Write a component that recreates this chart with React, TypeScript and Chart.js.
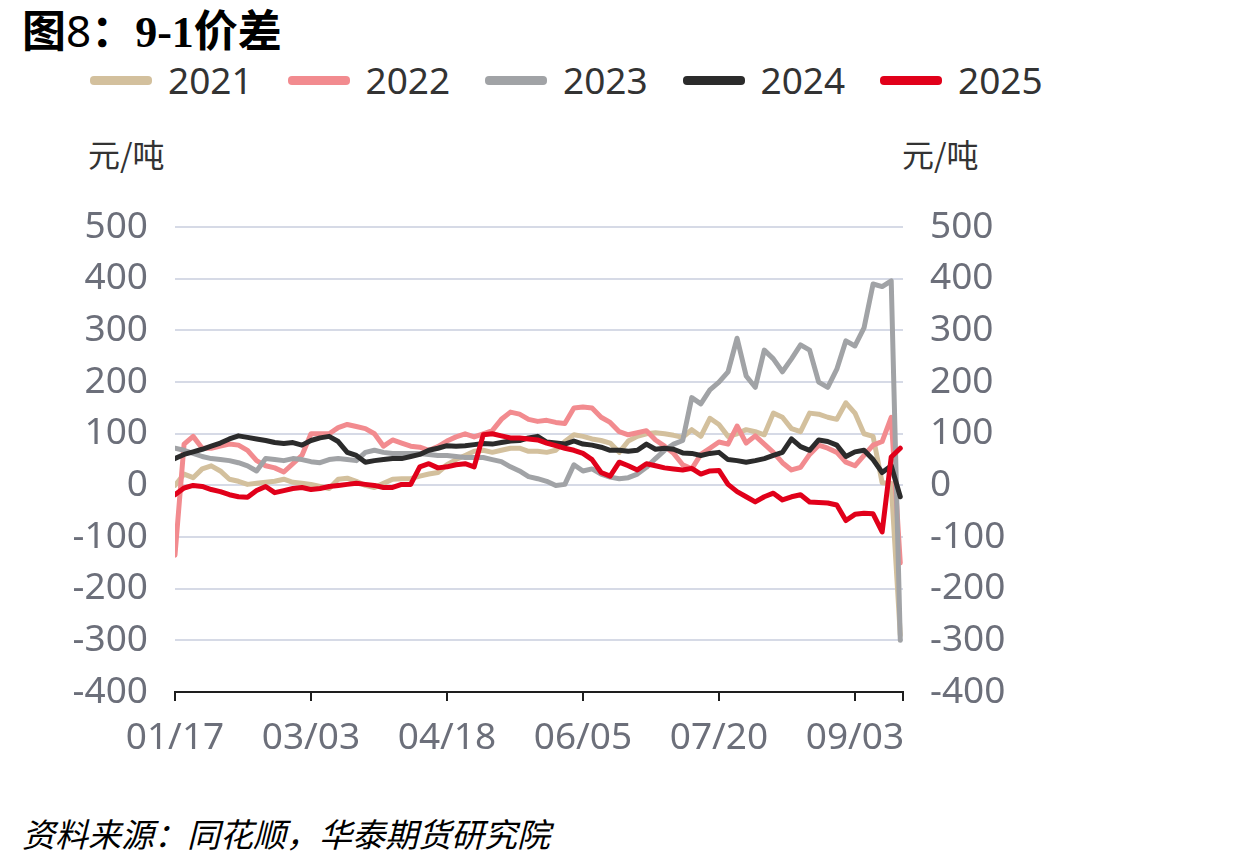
import React, { useEffect, useRef } from 'react';
import { Chart, registerables } from 'chart.js';

Chart.register(...registerables);

// ---- data ----
const dateLabels = ['01/17', '03/03', '04/18', '06/05', '07/20', '09/03'];
const labelStep = 15;
const xMax = 80.3;
const years = ['2021', '2022', '2023', '2024', '2025'];
const seriesColors = ['#D3C09D', '#F28B8F', '#A1A3A6', '#2B2B2B', '#E1001A'];

const s2021 = [
  0, 22, 15, 32, 38, 28, 12, 8, 2, 4, 6, 8, 12, 6, 4, 2, -2, -6, 12, 14,
  8, 0, -4, 4, 12, 13, 13, 18, 22, 25, 40, 50, 58, 66, 68, 64, 68, 72, 72, 66,
  66, 64, 68, 85, 98, 95, 90, 87, 82, 64, 86, 95, 100, 102, 100, 97, 93, 108, 95, 130,
  118, 95, 100, 108, 104, 98, 140, 132, 110, 104, 140, 138, 132, 128, 160, 140, 100, 95, 5, 4,
  -290,
];
const s2022 = [
  -135, 80, 95, 72, 72, 76, 80, 78, 68, 48, 38, 34, 26, 42, 58, 100, 100, 100, 112, 118,
  114, 110, 100, 76, 88, 82, 76, 74, 68, 75, 86, 94, 100, 94, 100, 106, 128, 142, 138, 128,
  124, 126, 122, 120, 150, 152, 150, 132, 122, 104, 98, 102, 106, 88, 76, 62, 40, 32, 60, 72,
  84, 80, 115, 82, 96, 80, 64, 44, 30, 35, 60, 78, 72, 64, 45, 38, 58, 78, 85, 132,
  -150,
];
const s2023 = [
  72, 68, 62, 56, 52, 50, 48, 44, 38, 28, 52, 50, 48, 52, 50, 46, 44, 50, 52, 50,
  48, 64, 68, 64, 62, 62, 62, 62, 60, 58, 58, 56, 54, 54, 54, 50, 46, 36, 28, 17,
  13, 8, 0, 2, 40, 28, 32, 22, 16, 13, 15, 22, 35, 52, 68, 80, 87, 170, 158, 185,
  200, 220, 285, 212, 190, 262, 245, 220, 245, 272, 262, 200, 190, 225, 280, 270, 305, 390, 385, 396,
  -300,
];
const s2024 = [
  52, 60, 65, 70, 76, 82, 90, 96, 93, 90, 87, 83, 81, 83, 78, 87, 92, 95, 85, 64,
  58, 45, 48, 50, 52, 52, 56, 60, 68, 72, 77, 76, 77, 79, 81, 80, 83, 86, 87, 92,
  95, 84, 82, 80, 86, 80, 78, 74, 68, 68, 66, 68, 80, 70, 72, 70, 63, 62, 58, 62,
  64, 50, 48, 45, 48, 52, 58, 64, 90, 75, 68, 88, 85, 78, 56, 65, 68, 50, 25, 38,
  -22,
];
const s2025 = [
  -18, -5, 0, -2, -8, -12, -18, -22, -23, -10, -2, -14, -10, -6, -4, -8, -6, -2, 0, 2,
  4, 2, 0, -4, -4, 2, 2, 36, 42, 34, 36, 40, 42, 36, 98, 100, 96, 92, 92, 90,
  88, 82, 77, 72, 68, 62, 50, 25, 18, 45, 38, 30, 42, 38, 34, 32, 30, 33, 22, 28,
  29, 2, -12, -22, -32, -22, -15, -28, -22, -18, -32, -33, -34, -38, -68, -56, -54, -55, -90, 55,
  72,
];
const seriesValues = [s2021, s2022, s2023, s2024, s2025];

const yMin = -400;
const yMax = 500;
const yStep = 100;

const tickColor = '#6C6F7A';
const gridColor = '#D6DAE6';
const axisColor = '#1E1E1E';
const tickFont = { family: '"Noto Sans", "Open Sans", sans-serif', size: 37 };

export default function App() {
  const canvasRef = useRef<HTMLCanvasElement | null>(null);

  useEffect(() => {
    if (!canvasRef.current) return;
    const datasets = seriesValues.map((vals, k) => ({
      label: years[k],
      data: vals.map((v, i) => ({ x: i, y: v })),
      borderColor: seriesColors[k],
      backgroundColor: seriesColors[k],
      borderWidth: 5,
      pointRadius: 0,
      tension: 0,
      fill: false,
      borderJoinStyle: 'round' as const,
      borderCapStyle: 'round' as const,
      order: years.length - k,
    }));
    const tickValues = dateLabels.map((_, i) => i * labelStep).concat([xMax]);
    const chart = new Chart(canvasRef.current, {
      type: 'line',
      data: { datasets },
      options: {
        animation: false,
        responsive: false,
        maintainAspectRatio: false,
        layout: { padding: { top: 0, left: 0, right: 0, bottom: 0 } },
        plugins: { legend: { display: false }, tooltip: { enabled: false } },
        scales: {
          x: {
            type: 'linear',
            min: 0,
            max: xMax,
            afterBuildTicks: (s: any) => {
              s.ticks = tickValues.map((v) => ({ value: v }));
            },
            afterFit: (s: any) => {
              s.height = 78;
            },
            ticks: {
              autoSkip: false,
              maxRotation: 0,
              minRotation: 0,
              color: tickColor,
              font: tickFont,
              padding: 15,
              callback: (_v: any, i: number) => dateLabels[i] ?? '',
            },
            grid: {
              drawOnChartArea: false,
              drawTicks: true,
              tickLength: 9,
              color: axisColor,
              lineWidth: 2,
            },
            border: { display: true, color: axisColor, width: 2 },
          },
          y: {
            position: 'left',
            min: yMin,
            max: yMax,
            afterFit: (s: any) => {
              s.width = 175;
            },
            ticks: { stepSize: yStep, color: tickColor, font: tickFont, padding: 27 },
            grid: {
              drawTicks: false,
              lineWidth: 2,
              color: (ctx: any) => (ctx.tick && ctx.tick.value === yMin ? 'rgba(0,0,0,0)' : gridColor),
            },
            border: { display: false },
          },
          y1: {
            position: 'right',
            min: yMin,
            max: yMax,
            afterFit: (s: any) => {
              s.width = 337;
            },
            ticks: { stepSize: yStep, color: tickColor, font: tickFont, padding: 27 },
            grid: { display: false, drawTicks: false },
            border: { display: false },
          },
        },
      },
    });
    return () => chart.destroy();
  }, []);

  const cjk = '"Noto Sans CJK SC", "Noto Sans", sans-serif';

  return (
    <div
      style={{
        position: 'absolute',
        left: 0,
        top: 0,
        width: 1240,
        height: 866,
        background: '#ffffff',
        overflow: 'hidden',
      }}
    >
      <div
        style={{
          position: 'absolute',
          left: 22,
          top: 2,
          fontSize: 44,
          lineHeight: '52px',
          fontWeight: 700,
          color: '#000',
          whiteSpace: 'nowrap',
        }}
      >
        <span style={{ fontFamily: cjk }}>图</span>
        <span style={{ fontFamily: '"Noto Sans", sans-serif', fontWeight: 400 }}>8</span>
        <span style={{ fontFamily: '"Liberation Serif", "Noto Sans CJK SC", serif' }}>：9-1</span>
        <span style={{ fontFamily: cjk }}>价差</span>
      </div>

      {years.map((y, k) => (
        <div
          key={y}
          style={{
            position: 'absolute',
            left: 90 + k * 197.5,
            top: 56,
            height: 48,
            display: 'flex',
            alignItems: 'center',
            whiteSpace: 'nowrap',
          }}
        >
          <div
            style={{
              width: 62,
              height: 9,
              borderRadius: 4,
              background: seriesColors[k],
            }}
          />
          <span
            style={{
              marginLeft: 16,
              fontFamily: '"Noto Sans", sans-serif',
              fontSize: 37,
              color: '#333',
              lineHeight: '48px',
            }}
          >
            {y}
          </span>
        </div>
      ))}

      <div
        style={{
          position: 'absolute',
          left: 88,
          top: 131,
          fontFamily: cjk,
          fontSize: 32,
          lineHeight: '44px',
          color: '#333',
          whiteSpace: 'nowrap',
        }}
      >
        元/吨
      </div>
      <div
        style={{
          position: 'absolute',
          left: 902,
          top: 131,
          fontFamily: cjk,
          fontSize: 32,
          lineHeight: '44px',
          color: '#333',
          whiteSpace: 'nowrap',
        }}
      >
        元/吨
      </div>

      <canvas
        ref={canvasRef}
        width={1240}
        height={592}
        style={{ position: 'absolute', left: 0, top: 178, width: 1240, height: 592 }}
      />

      <div
        style={{
          position: 'absolute',
          left: 22,
          top: 811,
          fontFamily: cjk,
          fontSize: 33,
          fontStyle: 'italic',
          lineHeight: '44px',
          color: '#000',
          whiteSpace: 'nowrap',
        }}
      >
        资料来源：同花顺，华泰期货研究院
      </div>
    </div>
  );
}
